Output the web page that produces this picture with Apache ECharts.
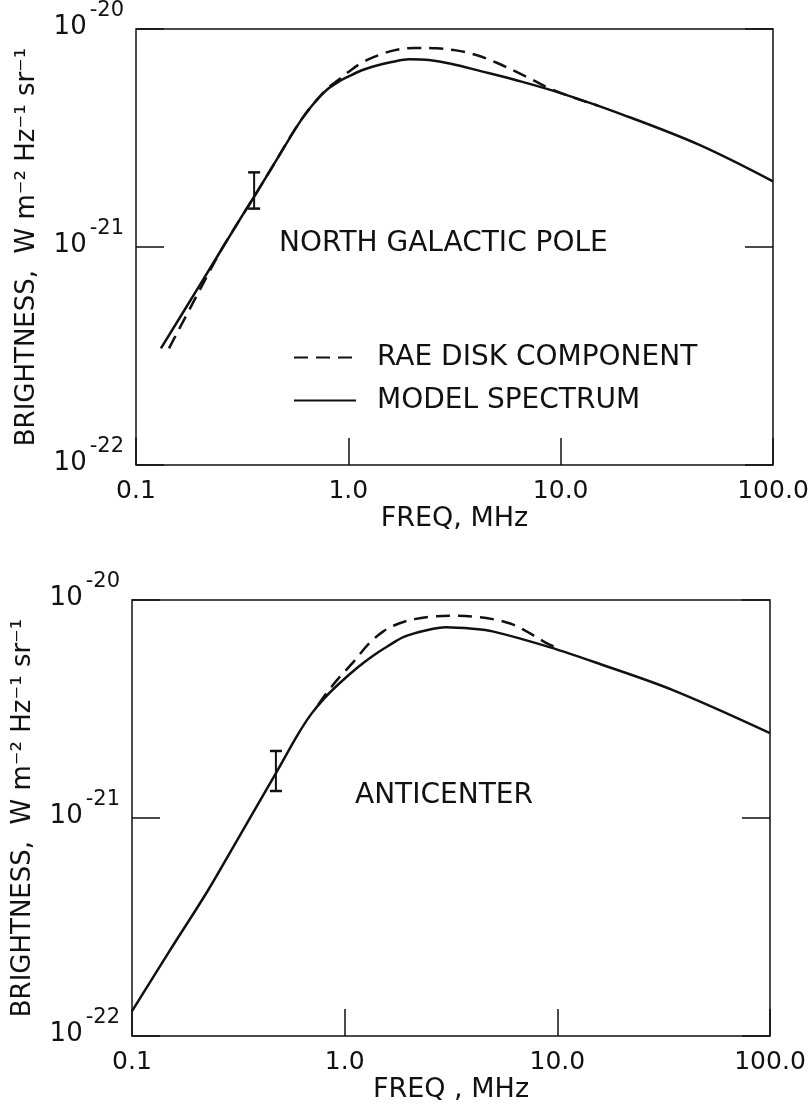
<!DOCTYPE html>
<html>
<head>
<meta charset="utf-8">
<title>Galactic background brightness spectrum</title>
<script src="https://cdn.jsdelivr.net/npm/echarts@6/dist/echarts.min.js"></script>
<style>
html, body { margin: 0; padding: 0; background: #fff; }
#main { width: 812px; height: 1118px; }
</style>
</head>
<body>
<div id="main"></div>
<script>
// tick labels
var xTickLabels = ['0.1', '1.0', '10.0', '100.0'];
var yTickExp = ['-22', '-21', '-20'];

// brightness values below are in units of 1e-22 W m-2 Hz-1 sr-1
// (log axis rounding breaks on raw 1e-22 numbers), frequencies in MHz

// north galactic pole - model spectrum
var ngpModelFreq = [0.131, 0.2, 0.3, 0.36, 0.45, 0.6, 0.7, 0.79, 0.9, 1.0, 1.15, 1.31, 1.6, 1.94, 2.4, 3.04, 4.2, 6.31, 10, 19.4, 45, 100];
var ngpModel = [3.43, 6.7, 12.8, 17.0, 24.3, 38.3, 46.5, 52.5, 57.3, 60.5, 64.5, 67.3, 70.5, 72.6, 72, 69.3, 64.1, 57.9, 50.8, 40.6, 29.4, 20];

// north galactic pole - RAE disk component
var ngpDiskFreq = [0.143, 0.2, 0.25, 0.3, 0.36, 0.45, 0.6, 0.79, 0.9, 1.0, 1.17, 1.4, 1.64, 2.05, 2.6, 3.21, 4.0, 5.0, 6.3, 7.5, 8.84, 11.1, 15];
var ngpDisk = [3.43, 6.37, 9.57, 12.8, 17.0, 24.3, 38.3, 53, 58.5, 63.5, 70.5, 76, 79.8, 81.9, 81.5, 79.8, 76, 70, 63, 58, 53.5, 49, 44.5];

// north galactic pole - measured point with error bar
var ngpErrFreq = [0.36, 0.36];
var ngpErr = [15, 22];

// anticenter - model spectrum
var acModelFreq = [0.1, 0.15, 0.226, 0.3, 0.476, 0.6, 0.693, 0.8, 0.946, 1.15, 1.36, 1.6, 1.91, 2.4, 2.99, 4.0, 4.96, 9.18, 16.1, 35.4, 100];
var acModel = [1.3, 2.45, 4.6, 7.4, 16.1, 24.0, 29.8, 35.3, 41.5, 49, 55.5, 61.5, 67.9, 72.5, 75, 73.8, 71.8, 60.8, 50.6, 38.4, 24.5];

// anticenter - RAE disk component
var acDiskFreq = [0.75, 0.82, 0.95, 1.09, 1.3, 1.52, 1.8, 2.13, 2.6, 3.16, 4.0, 4.96, 6.0, 6.93, 8.68, 9.7];
var acDisk = [33, 37.3, 44.5, 51.5, 63, 71.8, 78, 81.7, 84, 84.7, 84, 81.7, 78, 73.1, 64.3, 61];

// anticenter - measured point with error bar
var acErrFreq = [0.475, 0.475];
var acErr = [13.3, 20.3];

var font = 'DejaVu Sans';
var ink = '#111';

function pairs(xs, ys){
	return xs.map(function (x, i){ return [x, ys[i]]; });
}

function xAxisFor(grid, name){
	return {
		type: 'log',
		logBase: 10,
		gridIndex: grid,
		min: 0.1,
		max: 100,
		name: name,
		nameLocation: 'middle',
		nameGap: 40,
		nameTextStyle: { fontFamily: font, fontSize: 27, color: ink },
		axisLine: { show: false },
		axisTick: { inside: true, length: 27, lineStyle: { color: ink, width: 1.5 } },
		axisLabel: {
			margin: 14,
			fontFamily: font,
			fontSize: 25,
			color: ink,
			formatter: function (v){ return xTickLabels[Math.round(Math.log10(v)) + 1]; }
		},
		splitLine: { show: false },
		minorTick: { show: false }
	};
}

function yAxisFor(grid, right){
	return {
		type: 'log',
		logBase: 10,
		gridIndex: grid,
		position: right ? 'right' : 'left',
		min: 1,
		max: 100,
		name: right ? '' : 'BRIGHTNESS,  W m\u207B\u00B2 Hz\u207B\u00B9 sr\u207B\u00B9',
		nameLocation: 'middle',
		nameRotate: 90,
		nameGap: 96,
		nameTextStyle: { fontFamily: font, fontSize: 26, color: ink },
		axisLine: { show: false },
		axisTick: { inside: true, length: 28, lineStyle: { color: ink, width: 1.5 } },
		axisLabel: {
			show: !right,
			margin: 12,
			padding: [0, 0, 18, 0],
			fontFamily: font,
			color: ink,
			formatter: function (v){
				return '{b|10}{s|' + yTickExp[Math.round(Math.log10(v))] + '}';
			},
			rich: {
				b: { fontFamily: font, fontSize: 26, color: ink, lineHeight: 40, verticalAlign: 'bottom' },
				s: { fontFamily: font, fontSize: 21, color: ink, lineHeight: 15, verticalAlign: 'top', padding: [0, 0, 0, 3] }
			}
		},
		splitLine: { show: false },
		minorTick: { show: false }
	};
}

function curve(name, xi, yi, data, dashed){
	return {
		name: name,
		type: 'line',
		xAxisIndex: xi,
		yAxisIndex: yi,
		data: data,
		symbol: 'none',
		showSymbol: false,
		smooth: 0.35,
		z: dashed ? 3 : 2,
		itemStyle: { color: ink },
		lineStyle: { color: ink, width: 2.5, type: dashed ? [14, 8] : 'solid' }
	};
}

function errorBar(xi, yi, data){
	return {
		name: 'error',
		type: 'line',
		xAxisIndex: xi,
		yAxisIndex: yi,
		data: data,
		symbol: 'rect',
		symbolSize: [12, 2.5],
		showSymbol: true,
		itemStyle: { color: ink },
		lineStyle: { color: ink, width: 2 }
	};
}

var myChart = echarts.init(document.getElementById('main'));

var option = {
	backgroundColor: '#fff',
	animation: false,
	title: [{
		text: 'NORTH GALACTIC POLE',
		left: 279,
		top: 230,
		padding: 0,
		textStyle: { fontFamily: font, fontSize: 28, fontWeight: 'normal', color: ink }
	}, {
		text: 'ANTICENTER',
		left: 355,
		top: 782,
		padding: 0,
		textStyle: { fontFamily: font, fontSize: 28, fontWeight: 'normal', color: ink }
	}],
	legend: {
		data: ['RAE DISK COMPONENT', 'MODEL SPECTRUM'],
		orient: 'vertical',
		left: 293,
		top: 342,
		padding: 0,
		itemWidth: 62,
		itemHeight: 14,
		itemGap: 12,
		selectedMode: false,
		itemStyle: { opacity: 0 },
		textStyle: { fontFamily: font, fontSize: 28, color: ink, lineHeight: 31, padding: [0, 0, 0, 16] }
	},
	grid: [
		{ left: 136, top: 29, width: 637, height: 436, show: true, borderColor: ink, borderWidth: 1.5 },
		{ left: 132, top: 600, width: 638, height: 436, show: true, borderColor: ink, borderWidth: 1.5 }
	],
	xAxis: [
		xAxisFor(0, 'FREQ, MHz'),
		xAxisFor(1, 'FREQ , MHz')
	],
	yAxis: [
		yAxisFor(0, false),
		yAxisFor(0, true),
		yAxisFor(1, false),
		yAxisFor(1, true)
	],
	series: [
		curve('RAE DISK COMPONENT', 0, 0, pairs(ngpDiskFreq, ngpDisk), true),
		curve('MODEL SPECTRUM', 0, 0, pairs(ngpModelFreq, ngpModel), false),
		errorBar(0, 0, pairs(ngpErrFreq, ngpErr)),
		curve('RAE DISK COMPONENT', 1, 2, pairs(acDiskFreq, acDisk), true),
		curve('MODEL SPECTRUM', 1, 2, pairs(acModelFreq, acModel), false),
		errorBar(1, 2, pairs(acErrFreq, acErr))
	]
};

myChart.setOption(option);
</script>
</body>
</html>
